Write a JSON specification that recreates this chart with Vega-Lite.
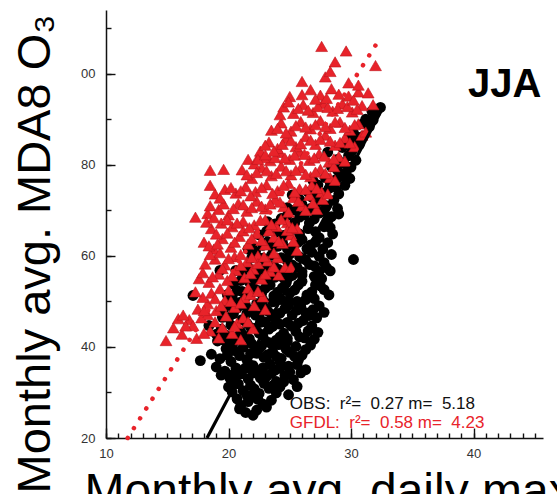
{
"$schema": "https://vega.github.io/schema/vega-lite/v6.json",
"width": 437,
"height": 428,
"autosize": {"type": "none"},
"padding": {"left": 106, "top": 10, "right": 14, "bottom": 56},
"background": "white",
"config": {"view": {"stroke": null}, "font": "Liberation Sans"},
"resolve": {"axis": {"x": "independent", "y": "independent"}},
"datasets": {
"obs": [
{"x":21.4,"y":25.6},{"x":22.3,"y":26.1},{"x":21.0,"y":27.2},{"x":22.8,"y":27.5},{"x":23.5,"y":28.3},{"x":20.7,"y":28.6},{"x":21.9,"y":28.9},
{"x":20.3,"y":30.1},{"x":21.2,"y":30.4},{"x":22.5,"y":29.8},{"x":23.3,"y":30.9},{"x":24.2,"y":31.2},{"x":24.9,"y":29.5},{"x":21.8,"y":31.6},{"x":22.9,"y":32.0},{"x":20.8,"y":31.9},{"x":23.9,"y":32.4},
{"x":19.4,"y":33.8},{"x":20.1,"y":33.2},{"x":21.0,"y":34.1},{"x":21.6,"y":33.0},{"x":22.4,"y":34.6},{"x":23.1,"y":33.5},{"x":23.8,"y":34.9},{"x":24.6,"y":33.7},{"x":25.3,"y":32.8},{"x":25.9,"y":34.3},{"x":20.6,"y":35.4},{"x":22.0,"y":35.9},{"x":23.4,"y":36.2},{"x":24.9,"y":35.8},{"x":19.0,"y":35.6},
{"x":17.7,"y":37.0},{"x":19.3,"y":37.4},{"x":20.2,"y":36.8},{"x":20.9,"y":38.1},{"x":21.5,"y":37.2},{"x":22.3,"y":38.6},{"x":22.9,"y":37.7},{"x":23.6,"y":39.0},{"x":24.3,"y":37.5},{"x":25.0,"y":38.8},{"x":25.7,"y":37.1},{"x":26.3,"y":39.4},{"x":19.8,"y":39.6},{"x":21.2,"y":39.9},{"x":22.7,"y":40.2},{"x":24.1,"y":40.5},{"x":25.5,"y":40.1},
{"x":18.4,"y":44.7},{"x":19.1,"y":41.3},{"x":19.8,"y":42.6},{"x":20.4,"y":41.0},{"x":21.0,"y":43.3},{"x":21.7,"y":41.8},{"x":22.2,"y":44.1},{"x":22.8,"y":42.4},{"x":23.3,"y":43.9},{"x":23.9,"y":41.5},{"x":24.5,"y":43.0},{"x":25.1,"y":44.6},{"x":25.8,"y":42.2},{"x":26.5,"y":43.5},{"x":27.0,"y":41.7},{"x":20.2,"y":44.8},{"x":21.5,"y":45.2},{"x":23.0,"y":45.5},{"x":24.2,"y":45.0},{"x":26.1,"y":45.8},{"x":19.4,"y":43.9},
{"x":19.5,"y":46.5},{"x":20.4,"y":47.3},{"x":21.1,"y":46.0},{"x":21.9,"y":48.0},{"x":22.5,"y":46.8},{"x":23.2,"y":47.9},{"x":23.8,"y":46.3},{"x":24.6,"y":48.4},{"x":25.2,"y":47.0},{"x":25.9,"y":48.9},{"x":26.6,"y":46.9},{"x":27.2,"y":46.4},{"x":20.0,"y":49.2},{"x":20.9,"y":49.8},{"x":22.3,"y":49.5},{"x":23.6,"y":49.9},{"x":24.9,"y":50.2},{"x":26.3,"y":50.4},{"x":27.4,"y":49.0},
{"x":17.1,"y":51.3},{"x":19.9,"y":51.5},{"x":20.7,"y":52.4},{"x":21.4,"y":51.0},{"x":22.0,"y":53.1},{"x":22.7,"y":51.7},{"x":23.4,"y":53.6},{"x":24.0,"y":52.0},{"x":24.7,"y":54.0},{"x":25.4,"y":52.5},{"x":26.0,"y":54.4},{"x":26.8,"y":52.1},{"x":27.5,"y":53.4},{"x":28.2,"y":51.4},{"x":21.0,"y":54.6},{"x":22.4,"y":55.0},{"x":23.8,"y":55.3},{"x":25.2,"y":55.7},{"x":27.0,"y":55.5},
{"x":20.6,"y":56.8},{"x":21.6,"y":57.5},{"x":22.5,"y":56.3},{"x":23.1,"y":58.2},{"x":24.1,"y":57.0},{"x":24.8,"y":58.8},{"x":25.6,"y":57.4},{"x":26.3,"y":59.1},{"x":27.0,"y":57.8},{"x":27.8,"y":58.5},{"x":28.3,"y":56.7},{"x":30.2,"y":59.2},{"x":21.9,"y":59.6},{"x":23.5,"y":60.1},{"x":25.0,"y":60.4},{"x":26.8,"y":60.8},
{"x":21.6,"y":61.5},{"x":22.8,"y":62.3},{"x":23.6,"y":61.8},{"x":24.4,"y":63.0},{"x":25.3,"y":62.1},{"x":26.0,"y":63.6},{"x":26.7,"y":62.4},{"x":27.4,"y":64.0},{"x":28.1,"y":62.9},{"x":28.5,"y":64.8},{"x":22.5,"y":64.6},{"x":23.9,"y":65.2},{"x":25.1,"y":65.7},{"x":26.5,"y":66.0},{"x":27.8,"y":66.4},
{"x":23.2,"y":67.5},{"x":24.3,"y":68.2},{"x":25.4,"y":67.3},{"x":26.2,"y":69.0},{"x":27.0,"y":68.1},{"x":27.7,"y":69.8},{"x":28.4,"y":68.6},{"x":28.9,"y":70.4},{"x":24.8,"y":70.6},{"x":26.0,"y":71.3},{"x":27.3,"y":71.8},{"x":28.6,"y":72.2},
{"x":25.2,"y":73.4},{"x":26.5,"y":74.0},{"x":27.4,"y":73.2},{"x":28.2,"y":74.8},{"x":29.0,"y":73.6},{"x":29.5,"y":75.5},{"x":26.9,"y":76.5},{"x":27.9,"y":77.2},{"x":28.8,"y":76.8},{"x":29.6,"y":78.3},{"x":30.0,"y":79.5},{"x":28.4,"y":79.6},
{"x":28.9,"y":81.2},{"x":29.8,"y":82.0},{"x":30.4,"y":81.0},{"x":29.3,"y":83.8},{"x":30.7,"y":84.5},{"x":31.0,"y":86.3},{"x":30.2,"y":87.0},{"x":31.5,"y":88.4},{"x":31.2,"y":90.0},{"x":32.0,"y":91.4},{"x":32.4,"y":92.6},{"x":28.1,"y":82.8},
{"x":21.9,"y":61.9},{"x":22.4,"y":59.7},{"x":19.3,"y":56.8},
{"x":20.9,"y":26.4},{"x":22.0,"y":25.0},{"x":23.1,"y":26.8},{"x":21.6,"y":28.0},{"x":22.4,"y":28.5},{"x":23.9,"y":29.9},
{"x":20.0,"y":31.2},{"x":21.5,"y":29.4},{"x":22.1,"y":30.8},{"x":23.6,"y":31.5},{"x":24.5,"y":32.3},{"x":22.6,"y":33.2},{"x":20.4,"y":32.6},{"x":25.6,"y":31.3},
{"x":19.7,"y":34.7},{"x":20.4,"y":34.0},{"x":21.3,"y":35.2},{"x":22.0,"y":34.3},{"x":22.8,"y":35.4},{"x":23.5,"y":34.2},{"x":24.2,"y":35.3},{"x":25.0,"y":34.5},{"x":25.6,"y":36.1},{"x":26.3,"y":35.0},{"x":21.6,"y":36.4},{"x":24.2,"y":36.7},
{"x":18.6,"y":38.4},{"x":19.9,"y":38.2},{"x":20.5,"y":39.2},{"x":21.8,"y":38.5},{"x":22.5,"y":39.6},{"x":23.2,"y":38.3},{"x":23.9,"y":37.9},{"x":24.7,"y":39.5},{"x":25.4,"y":37.9},{"x":26.0,"y":38.2},{"x":26.7,"y":40.4},{"x":20.0,"y":40.7},{"x":21.9,"y":40.7},{"x":23.4,"y":40.9},{"x":24.8,"y":41.2},
{"x":19.6,"y":41.5},{"x":20.6,"y":42.1},{"x":21.3,"y":42.4},{"x":22.5,"y":43.0},{"x":23.1,"y":41.2},{"x":24.2,"y":42.2},{"x":24.8,"y":41.9},{"x":25.5,"y":43.4},{"x":26.2,"y":42.0},{"x":26.8,"y":44.6},{"x":21.8,"y":44.3},{"x":22.6,"y":45.4},{"x":23.6,"y":44.5},{"x":24.8,"y":45.4},{"x":25.7,"y":45.2},{"x":27.3,"y":43.2},{"x":19.0,"y":42.8},
{"x":20.0,"y":46.4},{"x":20.7,"y":48.5},{"x":21.5,"y":47.4},{"x":22.2,"y":47.0},{"x":22.9,"y":48.7},{"x":23.5,"y":47.2},{"x":24.2,"y":47.4},{"x":24.9,"y":49.1},{"x":25.6,"y":48.1},{"x":26.3,"y":47.5},{"x":26.9,"y":48.2},{"x":21.4,"y":49.0},{"x":22.8,"y":50.3},{"x":24.3,"y":50.4},{"x":25.6,"y":50.0},{"x":27.0,"y":50.6},{"x":27.8,"y":47.6},{"x":19.6,"y":48.4},
{"x":20.3,"y":51.0},{"x":21.1,"y":52.2},{"x":21.8,"y":51.6},{"x":22.4,"y":52.4},{"x":23.0,"y":52.9},{"x":23.7,"y":51.2},{"x":24.4,"y":53.0},{"x":25.0,"y":51.8},{"x":25.7,"y":53.6},{"x":26.4,"y":51.4},{"x":27.1,"y":53.6},{"x":27.8,"y":52.6},{"x":21.7,"y":54.2},{"x":23.1,"y":54.5},{"x":24.5,"y":55.1},{"x":26.0,"y":55.8},{"x":27.6,"y":55.0},{"x":20.4,"y":53.8},
{"x":21.1,"y":56.4},{"x":22.1,"y":56.6},{"x":23.0,"y":57.0},{"x":23.7,"y":57.8},{"x":24.5,"y":56.4},{"x":25.2,"y":58.0},{"x":26.0,"y":56.5},{"x":26.6,"y":58.1},{"x":27.4,"y":56.6},{"x":28.0,"y":57.4},{"x":22.8,"y":59.5},{"x":24.3,"y":59.6},{"x":25.8,"y":59.8},{"x":27.4,"y":59.9},{"x":28.4,"y":60.3},
{"x":22.2,"y":61.0},{"x":23.2,"y":63.1},{"x":24.0,"y":62.1},{"x":24.8,"y":61.6},{"x":25.7,"y":63.0},{"x":26.4,"y":61.6},{"x":27.1,"y":63.0},{"x":27.7,"y":61.5},{"x":23.1,"y":65.4},{"x":24.5,"y":64.5},{"x":25.8,"y":64.8},{"x":27.1,"y":65.3},{"x":28.3,"y":66.2},
{"x":23.8,"y":67.0},{"x":24.8,"y":68.9},{"x":25.8,"y":68.5},{"x":26.6,"y":67.2},{"x":27.4,"y":69.4},{"x":28.1,"y":67.7},{"x":25.4,"y":70.1},{"x":26.7,"y":70.4},{"x":28.0,"y":71.0},{"x":29.0,"y":69.2},
{"x":25.8,"y":72.4},{"x":26.8,"y":72.9},{"x":27.9,"y":73.9},{"x":28.6,"y":75.2},{"x":27.3,"y":75.6},{"x":28.3,"y":76.1},{"x":29.2,"y":77.5},{"x":28.9,"y":78.8},{"x":29.9,"y":77.0},
{"x":29.4,"y":80.4},{"x":30.1,"y":83.1},{"x":29.7,"y":85.5},{"x":30.6,"y":86.0},{"x":31.0,"y":89.1},{"x":31.8,"y":89.8},{"x":30.4,"y":85.3},{"x":31.7,"y":91.8}
],
"gfdl": [
{"x":14.9,"y":41.4},{"x":16.2,"y":42.8},{"x":17.4,"y":41.9},{"x":18.5,"y":43.5},{"x":19.2,"y":42.0},{"x":20.3,"y":43.0},{"x":21.0,"y":41.6},{"x":15.9,"y":46.2},{"x":16.8,"y":46.0},{"x":17.8,"y":46.4},{"x":18.9,"y":45.5},{"x":19.8,"y":46.8},{"x":20.7,"y":45.2},{"x":21.2,"y":46.4},{"x":17.1,"y":44.7},{"x":22.0,"y":44.0},
{"x":17.5,"y":48.3},{"x":18.3,"y":49.5},{"x":19.0,"y":48.0},{"x":19.7,"y":50.2},{"x":20.5,"y":48.7},{"x":21.3,"y":50.8},{"x":22.1,"y":49.1},{"x":22.8,"y":51.0},{"x":18.6,"y":51.8},{"x":20.0,"y":52.5},{"x":21.6,"y":52.9},{"x":23.0,"y":48.2},{"x":17.9,"y":50.9},
{"x":17.6,"y":55.0},{"x":18.4,"y":54.2},{"x":19.2,"y":56.0},{"x":19.9,"y":54.6},{"x":20.6,"y":56.8},{"x":21.3,"y":55.2},{"x":22.0,"y":57.1},{"x":22.7,"y":54.9},{"x":23.4,"y":56.6},{"x":24.1,"y":55.8},{"x":18.1,"y":58.2},{"x":18.9,"y":59.3},{"x":19.7,"y":58.0},{"x":20.5,"y":59.8},{"x":21.5,"y":58.7},{"x":22.4,"y":60.0},{"x":23.2,"y":58.9},{"x":24.0,"y":59.6},{"x":24.6,"y":57.5},{"x":25.1,"y":57.5},
{"x":18.0,"y":63.0},{"x":18.8,"y":61.5},{"x":19.5,"y":63.8},{"x":20.2,"y":61.9},{"x":20.9,"y":64.3},{"x":21.6,"y":62.6},{"x":22.3,"y":64.9},{"x":23.0,"y":62.4},{"x":23.7,"y":64.1},{"x":24.4,"y":62.8},{"x":25.1,"y":64.6},{"x":25.6,"y":61.2},{"x":18.6,"y":66.0},{"x":19.4,"y":67.2},{"x":20.3,"y":66.4},{"x":21.2,"y":67.6},{"x":22.1,"y":66.8},{"x":23.0,"y":67.9},{"x":23.9,"y":66.5},{"x":24.8,"y":67.3},{"x":25.6,"y":66.0},{"x":17.3,"y":68.5},
{"x":18.3,"y":69.3},{"x":18.5,"y":71.0},{"x":19.2,"y":70.2},{"x":20.0,"y":69.0},{"x":20.8,"y":71.5},{"x":21.5,"y":69.8},{"x":22.3,"y":72.0},{"x":23.0,"y":70.3},{"x":23.8,"y":72.4},{"x":24.5,"y":70.8},{"x":25.3,"y":72.8},{"x":26.0,"y":71.0},{"x":26.6,"y":73.3},{"x":27.2,"y":70.2},{"x":18.9,"y":73.6},{"x":19.7,"y":74.6},{"x":20.6,"y":73.8},{"x":21.4,"y":75.2},{"x":22.2,"y":74.1},{"x":23.1,"y":75.6},{"x":24.0,"y":74.3},{"x":24.9,"y":75.9},{"x":25.8,"y":74.7},{"x":26.8,"y":75.5},{"x":27.6,"y":74.0},
{"x":18.5,"y":75.5},{"x":18.5,"y":78.8},{"x":19.6,"y":79.0},{"x":21.1,"y":78.9},{"x":21.9,"y":77.0},{"x":22.7,"y":79.4},{"x":23.5,"y":77.6},{"x":24.3,"y":79.7},{"x":25.1,"y":77.8},{"x":25.9,"y":79.3},{"x":26.7,"y":77.4},{"x":27.5,"y":79.0},{"x":28.3,"y":77.2},{"x":28.7,"y":76.6},{"x":21.6,"y":81.2},{"x":22.1,"y":80.2},{"x":22.6,"y":82.5},{"x":23.4,"y":80.9},{"x":24.2,"y":82.7},{"x":25.0,"y":81.2},{"x":25.8,"y":82.9},{"x":26.6,"y":81.0},{"x":27.4,"y":82.4},{"x":28.2,"y":80.6},{"x":29.0,"y":81.8},
{"x":22.6,"y":83.0},{"x":23.3,"y":85.0},{"x":24.0,"y":83.6},{"x":24.7,"y":85.8},{"x":25.5,"y":84.0},{"x":26.3,"y":86.2},{"x":27.1,"y":84.5},{"x":27.9,"y":86.5},{"x":28.7,"y":84.3},{"x":29.5,"y":85.9},{"x":30.3,"y":84.0},{"x":30.9,"y":86.5},{"x":23.5,"y":87.6},{"x":24.3,"y":89.2},{"x":25.1,"y":87.4},{"x":25.9,"y":89.5},{"x":26.7,"y":87.9},{"x":27.5,"y":89.7},{"x":28.3,"y":88.0},{"x":29.1,"y":89.4},{"x":29.9,"y":87.6},{"x":30.6,"y":89.0},{"x":31.2,"y":87.2},{"x":22.9,"y":81.6},
{"x":24.2,"y":91.0},{"x":24.5,"y":92.7},{"x":25.3,"y":91.3},{"x":26.1,"y":93.2},{"x":26.9,"y":91.5},{"x":27.7,"y":93.5},{"x":28.5,"y":91.8},{"x":29.3,"y":93.4},{"x":30.1,"y":91.6},{"x":30.9,"y":93.0},{"x":31.8,"y":93.2},{"x":25.0,"y":95.0},{"x":26.7,"y":96.5},{"x":27.5,"y":95.3},{"x":28.4,"y":96.7},{"x":29.8,"y":95.1},{"x":30.6,"y":96.0},{"x":31.4,"y":95.8},
{"x":27.9,"y":99.3},{"x":29.8,"y":98.0},{"x":28.7,"y":102.6},{"x":32.0,"y":101.8},{"x":27.6,"y":106.0},{"x":29.6,"y":105.0},{"x":26.0,"y":98.3},
{"x":15.5,"y":44.2},{"x":16.5,"y":44.6},{"x":18.0,"y":43.0},{"x":19.5,"y":44.3},{"x":20.5,"y":44.5},{"x":21.6,"y":45.5},{"x":16.3,"y":47.0},{"x":18.3,"y":47.1},
{"x":18.0,"y":48.0},{"x":18.9,"y":50.6},{"x":19.4,"y":49.0},{"x":20.2,"y":50.0},{"x":21.0,"y":49.6},{"x":21.8,"y":51.5},{"x":22.4,"y":52.2},{"x":19.3,"y":52.8},{"x":17.3,"y":52.1},
{"x":17.9,"y":56.3},{"x":18.7,"y":55.4},{"x":19.5,"y":57.2},{"x":20.3,"y":55.6},{"x":21.0,"y":57.9},{"x":21.8,"y":56.1},{"x":22.4,"y":58.3},{"x":23.0,"y":56.0},{"x":23.7,"y":57.6},{"x":18.5,"y":60.3},{"x":19.3,"y":60.7},{"x":20.0,"y":59.4},{"x":21.0,"y":60.3},{"x":21.9,"y":59.6},{"x":23.7,"y":60.6},{"x":22.9,"y":59.8},
{"x":18.4,"y":62.2},{"x":19.1,"y":62.6},{"x":19.9,"y":65.0},{"x":20.5,"y":63.0},{"x":21.2,"y":65.5},{"x":21.9,"y":63.8},{"x":22.7,"y":63.4},{"x":23.3,"y":65.5},{"x":24.1,"y":63.2},{"x":24.8,"y":65.6},{"x":25.3,"y":63.2},{"x":19.0,"y":64.8},{"x":18.2,"y":67.4},{"x":19.9,"y":67.9},{"x":20.7,"y":67.2},{"x":21.7,"y":66.2},{"x":22.6,"y":67.8},{"x":23.5,"y":66.9},{"x":24.3,"y":68.0},{"x":25.2,"y":66.2},
{"x":18.8,"y":68.4},{"x":19.6,"y":71.4},{"x":20.4,"y":70.4},{"x":21.2,"y":71.2},{"x":21.9,"y":70.6},{"x":22.7,"y":70.9},{"x":23.4,"y":71.4},{"x":24.2,"y":71.8},{"x":24.9,"y":69.6},{"x":25.7,"y":72.0},{"x":26.3,"y":70.0},{"x":26.9,"y":71.6},{"x":27.7,"y":72.4},{"x":19.3,"y":72.7},{"x":20.2,"y":75.0},{"x":21.0,"y":74.3},{"x":21.8,"y":73.2},{"x":22.7,"y":75.0},{"x":23.6,"y":73.7},{"x":24.5,"y":75.5},{"x":25.4,"y":74.0},{"x":26.3,"y":74.6},{"x":27.2,"y":74.8},{"x":28.1,"y":73.6},
{"x":21.5,"y":77.8},{"x":22.3,"y":78.3},{"x":23.1,"y":78.7},{"x":23.9,"y":78.1},{"x":24.7,"y":78.7},{"x":25.5,"y":78.8},{"x":26.3,"y":77.9},{"x":27.1,"y":78.4},{"x":27.9,"y":78.1},{"x":28.6,"y":79.6},{"x":22.4,"y":81.2},{"x":23.0,"y":82.2},{"x":23.8,"y":81.6},{"x":24.6,"y":81.5},{"x":25.4,"y":82.1},{"x":26.2,"y":82.3},{"x":27.0,"y":81.5},{"x":27.8,"y":81.9},{"x":28.6,"y":81.3},{"x":29.5,"y":80.8},
{"x":23.0,"y":84.3},{"x":23.7,"y":83.0},{"x":24.4,"y":84.5},{"x":25.1,"y":85.3},{"x":25.9,"y":84.6},{"x":26.7,"y":85.4},{"x":27.5,"y":85.6},{"x":28.3,"y":85.2},{"x":29.1,"y":84.9},{"x":29.9,"y":84.8},{"x":24.0,"y":88.0},{"x":24.7,"y":87.0},{"x":25.5,"y":88.6},{"x":26.3,"y":88.3},{"x":27.1,"y":88.8},{"x":27.9,"y":88.4},{"x":28.7,"y":89.4},{"x":29.5,"y":88.2},{"x":30.3,"y":88.8},
{"x":24.9,"y":93.8},{"x":25.7,"y":92.4},{"x":26.5,"y":92.0},{"x":27.3,"y":92.8},{"x":28.1,"y":92.6},{"x":28.9,"y":92.4},{"x":29.7,"y":92.8},{"x":30.5,"y":92.2},{"x":26.0,"y":95.4},{"x":27.1,"y":94.4},{"x":28.0,"y":94.6},{"x":29.0,"y":95.5},{"x":30.2,"y":94.2},
{"x":28.3,"y":100.5},{"x":30.6,"y":97.5}
],
"obsfit": [{"x":18.24,"y":20},{"x":32.7,"y":93}],
"gfdlfit": [{"x":11.77,"y":20},{"x":32.37,"y":107.8}]
},
"layer": [
{"data": {"name": "obs"},
 "mark": {"type": "point", "shape": "circle", "filled": true, "size": 118, "color": "#000", "opacity": 1},
 "encoding": {
  "x": {"field": "x", "type": "quantitative", "scale": {"domain": [10, 45.67], "nice": false, "zero": false},
   "axis": {"orient": "bottom", "ticks": false, "labels": false, "domainColor": "#111", "domainWidth": 1.5, "grid": false,
    "title": "Monthly avg. daily max T (°C)",
    "titleFont": "Liberation Sans", "titleFontSize": 48, "titleFontWeight": "normal", "titleColor": "#000",
    "titleAnchor": "start", "titleAlign": "left", "titleBaseline": "alphabetic", "titleX": -22, "titleY": 68}},
  "y": {"field": "y", "type": "quantitative", "scale": {"domain": [20, 114], "nice": false, "zero": false},
   "axis": {"orient": "left", "ticks": false, "labels": false, "domainColor": "#111", "domainWidth": 1.5, "grid": false,
    "title": "Monthly avg. MDA8 O₃",
    "titleFont": "Liberation Sans", "titleFontSize": 47, "titleFontWeight": "normal", "titleColor": "#000",
    "titleAngle": -90, "titleAnchor": "start", "titleAlign": "left", "titleBaseline": "alphabetic", "titleX": -57, "titleY": 483}}
 }},
{"data": {"name": "gfdl"},
 "mark": {"type": "point", "shape": "triangle-up", "filled": true, "size": 140, "fill": "#e8232a", "stroke": "#c0161c", "strokeWidth": 0.6, "opacity": 1},
 "encoding": {
  "x": {"field": "x", "type": "quantitative",
   "axis": {"orient": "bottom", "values": [10,20,30,40], "domain": false, "ticks": false, "tickSize": 0, "grid": false,
    "labelFont": "Liberation Sans", "labelFontSize": 13, "labelColor": "#333", "labelPadding": 9, "labelFlush": false, "labelOverlap": false, "title": null}},
  "y": {"field": "y", "type": "quantitative",
   "axis": {"orient": "left", "values": [20,40,60,80,100], "domain": false, "ticks": false, "tickSize": 0, "grid": false,
    "labelExpr": "datum.value === 100 ? '00' : datum.label",
    "labelFont": "Liberation Sans", "labelFontSize": 13, "labelColor": "#333", "labelPadding": 11, "labelFlush": false, "labelOverlap": false, "title": null}}
 }},
{"data": {"name": "obsfit"}, "mark": {"type": "line", "color": "#000", "strokeWidth": 3.2},
 "encoding": {
  "x": {"field": "x", "type": "quantitative",
   "axis": {"orient": "top", "offset": -428, "values": [10,11,12,13,14,15,16,17,18,19,20,21,22,23,24,25,26,27,28,29,30,31,32,33,34,35,36,37,38,39,40,41,42,43,44,45],
    "domain": false, "labels": false, "ticks": true, "tickSize": 5, "tickColor": "#111", "tickWidth": 1.4, "tickOpacity": 1, "grid": false, "title": null}},
  "y": {"field": "y", "type": "quantitative",
   "axis": {"orient": "right", "offset": -437, "values": [20,30,40,50,60,70,80,90,100,110],
    "domain": false, "labels": false, "ticks": true, "tickSize": 5, "tickColor": "#111", "tickWidth": 1.4, "tickOpacity": 1, "grid": false, "title": null}}
 }},
{"data": {"name": "gfdlfit"}, "mark": {"type": "line", "color": "#e8232a", "strokeWidth": 4.5, "strokeDash": [0.1, 11.5], "strokeCap": "round"},
 "encoding": {
  "x": {"field": "x", "type": "quantitative",
   "axis": {"orient": "top", "offset": -428, "values": [10,20,30,40],
    "domain": false, "labels": false, "ticks": true, "tickSize": 10, "tickColor": "#111", "tickWidth": 1.4, "tickOpacity": 1, "grid": false, "title": null}},
  "y": {"field": "y", "type": "quantitative",
   "axis": {"orient": "right", "offset": -437, "values": [20,40,60,80,100],
    "domain": false, "labels": false, "ticks": true, "tickSize": 9, "tickColor": "#111", "tickWidth": 1.4, "tickOpacity": 1, "grid": false, "title": null}}
 }},
{"data": {"values": [{"x": 39.55, "y": 97.5, "t": "JJA"}]}, "mark": {"type": "text", "align": "left", "baseline": "middle", "font": "Liberation Sans", "fontSize": 40, "fontWeight": "bold", "color": "#000"},
 "encoding": {"x": {"field": "x", "type": "quantitative", "axis": null}, "y": {"field": "y", "type": "quantitative", "axis": null}, "text": {"field": "t"}}},
{"data": {"values": [{"x": 25.0, "y": 27.4, "t": "OBS:\u00a0 r²=\u00a0 0.27 m=\u00a0 5.18"}]}, "mark": {"type": "text", "align": "left", "baseline": "middle", "font": "Liberation Sans", "fontSize": 17, "color": "#111"},
 "encoding": {"x": {"field": "x", "type": "quantitative", "axis": null}, "y": {"field": "y", "type": "quantitative", "axis": null}, "text": {"field": "t"}}},
{"data": {"values": [{"x": 25.0, "y": 23.4, "t": "GFDL:\u00a0 r²=\u00a0 0.58 m=\u00a0 4.23"}]}, "mark": {"type": "text", "align": "left", "baseline": "middle", "font": "Liberation Sans", "fontSize": 17, "color": "#e8232a"},
 "encoding": {"x": {"field": "x", "type": "quantitative", "axis": null}, "y": {"field": "y", "type": "quantitative", "axis": null}, "text": {"field": "t"}}}
]
}
